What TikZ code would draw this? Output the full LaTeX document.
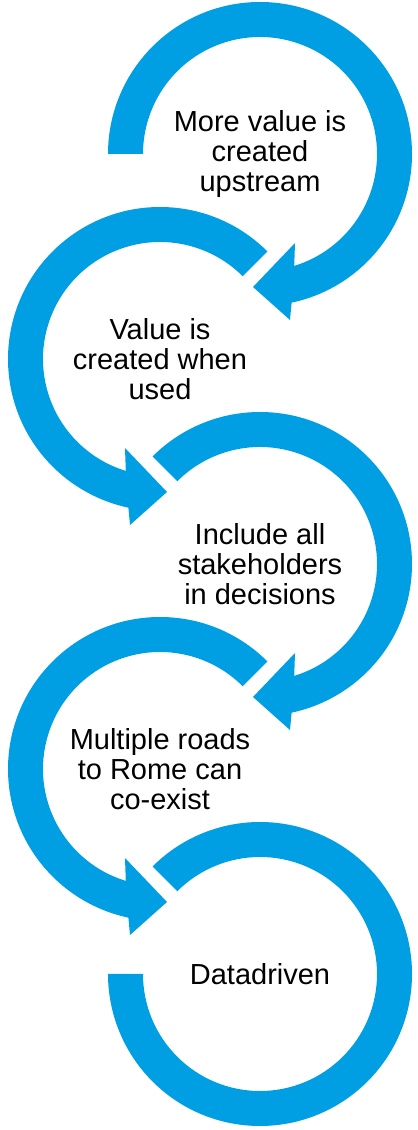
\documentclass[tikz,border=0pt]{standalone}
\usepackage{fontspec}
\setmainfont{Liberation Sans}
\usepackage{xcolor}
\usepackage{tikz}
\definecolor{ringblue}{RGB}{0,159,227}

\begin{document}
\begin{tikzpicture}[x=0.02cm,y=0.02cm,
    ring/.style={fill=ringblue},
    label/.style={align=center,text=black,font=\fontsize{16.5}{17}\selectfont}]
      \useasboundingbox (0,0) rectangle (418,1130);
      \coordinate (c1) at (260,976);
      \coordinate (c2) at (160,771);
      \coordinate (c3) at (260,566);
      \coordinate (c4) at (160,361);
      \coordinate (c5) at (260,156);
      % clockwise rings, arrow at the bottom
      \begin{scope}[shift={(c1)}]
        \fill[ring] (180:152) arc[start angle=180,end angle=-78,radius=152] -- (30,-166) -- (-7,-133)
          -- (35,-89) -- (-73:117) arc[start angle=-73,end angle=180,radius=117] -- cycle;
      \end{scope}
      \begin{scope}[shift={(c3)}]
        \fill[ring] (135:152) arc[start angle=135,end angle=-78,radius=152] -- (30,-166) -- (-7,-133)
          -- (35,-89) -- (-73:117) arc[start angle=-73,end angle=135,radius=117] -- cycle;
      \end{scope}
      % counter clockwise rings
      \begin{scope}[shift={(c2)}]
        \fill[ring] (45:152) arc[start angle=45,end angle=258,radius=152] -- (-30,-166) -- (7,-133)
          -- (-35,-89) -- (253:117) arc[start angle=253,end angle=45,radius=117] -- cycle;
      \end{scope}
      \begin{scope}[shift={(c4)}]
        \fill[ring] (45:152) arc[start angle=45,end angle=258,radius=152] -- (-30,-166) -- (7,-133)
          -- (-35,-89) -- (253:117) arc[start angle=253,end angle=45,radius=117] -- cycle;
      \end{scope}
      % last ring, no arrow
      \begin{scope}[shift={(c5)}]
        \fill[ring] (135:152) arc[start angle=135,end angle=-180,radius=152] -- (180:117)
          arc[start angle=-180,end angle=135,radius=117] -- cycle;
      \end{scope}
      \node[label] (step1) at (c1) {More value is\\created\\upstream};
      \node[label] (step2) at (c2) {Value is\\created when\\used};
      \node[label] (step3) at (c3) {Include all\\stakeholders\\in decisions};
      \node[label] (step4) at (c4) {Multiple roads\\to Rome can\\co-exist};
      \node[label] (step5) at (c5) {Datadriven};
    \end{tikzpicture}
\end{document}
